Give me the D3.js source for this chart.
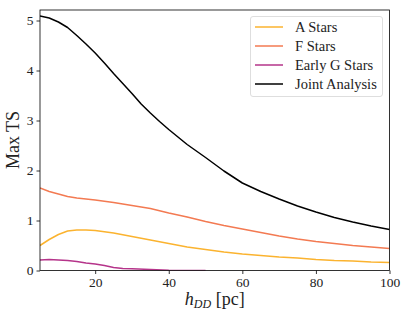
<!DOCTYPE html>
<html lang='en'>
  <head>
    <meta charset='utf-8'>
    <title>Max TS vs h_DD</title>
    <script type='text/javascript' src='https://cdn.jsdelivr.net/npm/d3@7'></script>
    <style>
      body { margin: 0; background: #fff; }
      text { font-family: 'Liberation Serif', 'DejaVu Serif', serif; }
    </style>
  </head>
  <body>
    <script type='text/javascript'>

      // chart values
      var hA = [5, 7.5, 10, 12.5, 15, 17.5, 20, 25, 30, 35, 40, 45, 50, 55, 60, 65, 70, 75, 80, 85, 90, 95, 100];
      var tsA = [0.50, 0.62, 0.72, 0.79, 0.81, 0.81, 0.80, 0.75, 0.68, 0.61, 0.54, 0.47, 0.42, 0.37, 0.33, 0.30, 0.27, 0.25, 0.22, 0.20, 0.19, 0.17, 0.16];

      var hF = [5, 7.5, 10, 12.5, 15, 20, 25, 30, 35, 40, 45, 50, 55, 60, 65, 70, 75, 80, 85, 90, 95, 100];
      var tsF = [1.65, 1.58, 1.53, 1.48, 1.45, 1.41, 1.36, 1.30, 1.24, 1.15, 1.07, 0.98, 0.90, 0.83, 0.76, 0.69, 0.63, 0.58, 0.54, 0.50, 0.47, 0.44];

      var hG = [5, 7.5, 10, 12.5, 15, 17.5, 20, 22.5, 25, 27.5, 30, 35, 40, 45, 50];
      var tsG = [0.21, 0.22, 0.21, 0.20, 0.18, 0.15, 0.13, 0.10, 0.06, 0.04, 0.035, 0.02, 0.005, 0, 0];

      var hJ = [5, 7.5, 10, 12.5, 15, 17.5, 20, 22.5, 25, 27.5, 30, 32.5, 35, 37.5, 40, 45, 50, 55, 60, 65, 70, 75, 80, 85, 90, 95, 100];
      var tsJ = [5.09, 5.05, 4.97, 4.86, 4.70, 4.53, 4.35, 4.15, 3.94, 3.74, 3.54, 3.33, 3.15, 2.98, 2.82, 2.52, 2.26, 1.99, 1.75, 1.58, 1.43, 1.29, 1.17, 1.06, 0.97, 0.89, 0.82];

      var seriesNames = ['A Stars', 'F Stars', 'Early G Stars', 'Joint Analysis'];
      var seriesColors = ['#fbb32f', '#f37a52', '#b5348a', '#000000'];
      var xTicks = [20, 40, 60, 80, 100];
      var yTicks = [0, 1, 2, 3, 4, 5];

      var w = 407;
      var h = 318;
      var plotL = 40, plotR = 389.5, plotT = 10, plotB = 270.5;

      var svg = d3.select('body')
                  .append('svg')
                  .attr('width', w)
                  .attr('height', h);

      var xScale = d3.scaleLinear()
                     .domain([5, 100])
                     .range([plotL, plotR]);

      var yScale = d3.scaleLinear()
                     .domain([0, 5.21])
                     .range([plotB, plotT]);

      svg.append('clipPath')
         .attr('id', 'plot')
         .append('rect')
         .attr('x', plotL)
         .attr('y', plotT)
         .attr('width', plotR - plotL)
         .attr('height', plotB - plotT);

      var series = [
        {xs: hA, ys: tsA},
        {xs: hF, ys: tsF},
        {xs: hG, ys: tsG},
        {xs: hJ, ys: tsJ}
      ];

      var line = d3.line()
                   .x(function(d){ return xScale(d[0]); })
                   .y(function(d){ return yScale(d[1]); });

      svg.append('g')
         .attr('clip-path', 'url(#plot)')
         .selectAll('path')
         .data(series)
         .enter()
         .append('path')
         .attr('d', function(s){
           return line(s.xs.map(function(x, i){ return [x, s.ys[i]]; }));
         })
         .attr('fill', 'none')
         .attr('stroke', function(s, i){ return seriesColors[i]; })
         .attr('stroke-width', 1.5)
         .attr('stroke-linejoin', 'round');

      // axes
      var xAxis = d3.axisBottom(xScale).tickValues(xTicks).tickFormat(d3.format('d')).tickSize(3.5).tickPadding(3);
      var yAxis = d3.axisLeft(yScale).tickValues(yTicks).tickFormat(d3.format('d')).tickSize(3.5).tickPadding(3);

      var gx = svg.append('g')
                  .attr('transform', 'translate(0,' + plotB + ')')
                  .call(xAxis);
      var gy = svg.append('g')
                  .attr('transform', 'translate(' + plotL + ',0)')
                  .call(yAxis);

      [gx, gy].forEach(function(g){
        g.select('.domain').remove();
        g.selectAll('line').attr('stroke', '#000').attr('stroke-width', 0.8);
        g.selectAll('text')
         .attr('font-family', "'Liberation Serif', serif")
         .attr('font-size', '13.5px')
         .attr('fill', '#222');
      });

      // frame
      svg.append('rect')
         .attr('x', plotL)
         .attr('y', plotT)
         .attr('width', plotR - plotL)
         .attr('height', plotB - plotT)
         .attr('fill', 'none')
         .attr('stroke', '#000')
         .attr('stroke-width', 0.8);

      // axis labels
      var xl = svg.append('text')
                  .attr('x', (plotL + plotR) / 2)
                  .attr('y', 305)
                  .attr('text-anchor', 'middle')
                  .attr('font-size', '18px')
                  .attr('fill', '#222');
      xl.append('tspan').attr('font-style', 'italic').text('h');
      xl.append('tspan').attr('font-style', 'italic').attr('font-size', '12px').attr('dy', 3).text('DD');
      xl.append('tspan').attr('dy', -3).text(' [pc]');

      svg.append('text')
         .attr('transform', 'translate(19,140) rotate(-90)')
         .attr('text-anchor', 'middle')
         .attr('font-size', '18px')
         .attr('fill', '#222')
         .text('Max TS');

      // legend
      var legend = svg.append('g');
      legend.append('rect')
            .attr('x', 250.5)
            .attr('y', 16.5)
            .attr('width', 132)
            .attr('height', 80)
            .attr('rx', 2.5)
            .attr('fill', '#fff')
            .attr('fill-opacity', 0.8)
            .attr('stroke', '#d6d6d6')
            .attr('stroke-width', 0.8);

      var items = legend.selectAll('g.item')
                        .data(seriesNames)
                        .enter()
                        .append('g')
                        .attr('transform', function(d, i){
                          return 'translate(0,' + (27 + i * 19) + ')';
                        });
      items.append('line')
           .attr('x1', 255)
           .attr('x2', 283)
           .attr('stroke', function(d, i){ return seriesColors[i]; })
           .attr('stroke-width', 1.5);
      items.append('text')
           .attr('x', 295)
           .attr('y', 4.5)
           .attr('font-size', '14.5px')
           .attr('fill', '#222')
           .text(function(d){ return d; });

    </script>
  </body>
</html>
